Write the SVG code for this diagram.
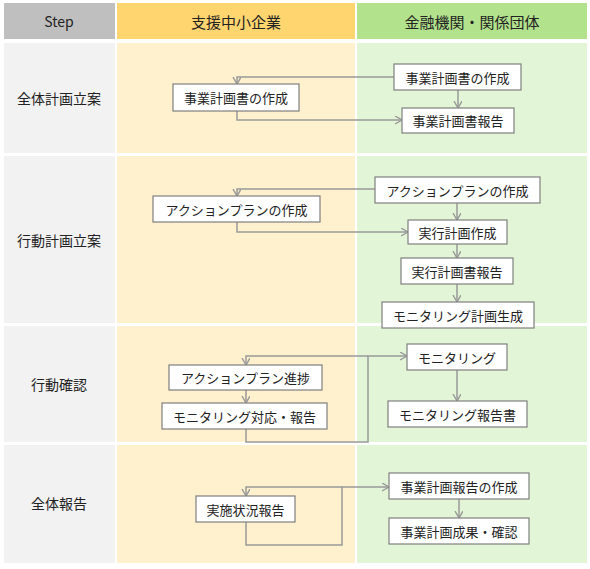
<svg xmlns="http://www.w3.org/2000/svg" width="590" height="569" viewBox="0 0 590 569">
<defs>
<marker id="arr" markerUnits="userSpaceOnUse" markerWidth="10" markerHeight="10" refX="7" refY="4" orient="auto">
<path d="M0,0 L7,4 L0,8" fill="none" stroke="#999" stroke-width="1.4"/>
</marker>
<style>
text{font-family:"Noto Sans CJK JP","Noto Sans",sans-serif;fill:#222;text-anchor:middle;dominant-baseline:central}
.h{font-size:15px}
.r{font-size:14px}
.b{font-size:13px}
.box{fill:#fff;stroke:#7f7f7f;stroke-width:1.2}
.c{fill:none;stroke:#999;stroke-width:1.5}
</style>
</defs>
<rect width="590" height="569" fill="#fff"/>
<g id="lanes">
<rect x="4" y="3" width="111" height="36" fill="#bfbfbf"/>
<rect x="117" y="3" width="238" height="36" fill="#ffd56f"/>
<rect x="357" y="3" width="230" height="36" fill="#b3e28c"/>
<rect x="4" y="43" width="111" height="520" fill="#f2f2f2"/>
<rect x="117" y="43" width="238" height="520" fill="#fff0ce"/>
<rect x="357" y="43" width="230" height="520" fill="#e3f5d7"/>
<g fill="#fff">
<rect x="0" y="153" width="590" height="3"/>
<rect x="0" y="323" width="590" height="3"/>
<rect x="0" y="442" width="590" height="3"/>
</g>
<text class="r" x="59" y="21">Step</text>
<text class="h" x="236" y="21">支援中小企業</text>
<text class="h" x="472" y="21">金融機関・関係団体</text>
<text class="r" x="59" y="98">全体計画立案</text>
<text class="r" x="59" y="240">行動計画立案</text>
<text class="r" x="59" y="384">行動確認</text>
<text class="r" x="59" y="503">全体報告</text>
</g>
<g id="connectors">
<path class="c" d="M394,77 H237 V84" marker-end="url(#arr)"/>
<path class="c" d="M237,111 V120 H402" marker-end="url(#arr)"/>
<path class="c" d="M458,90 V108" marker-end="url(#arr)"/>
<path class="c" d="M375,189 H237 V196" marker-end="url(#arr)"/>
<path class="c" d="M237,222 V232 H408" marker-end="url(#arr)"/>
<path class="c" d="M457,203 V220" marker-end="url(#arr)"/>
<path class="c" d="M457,244 V258" marker-end="url(#arr)"/>
<path class="c" d="M457,284 V302" marker-end="url(#arr)"/>
<path class="c" d="M246,429 V442 H368 V356 H407" marker-end="url(#arr)"/>
<path class="c" d="M368,356 H246 V365" marker-end="url(#arr)"/>
<path class="c" d="M246,390 V403" marker-end="url(#arr)"/>
<path class="c" d="M457,370 V401" marker-end="url(#arr)"/>
<path class="c" d="M246,522 V545 H342 V487 H389" marker-end="url(#arr)"/>
<path class="c" d="M342,487 H246 V496" marker-end="url(#arr)"/>
<path class="c" d="M459,499 V518" marker-end="url(#arr)"/>
</g>
<g id="n1"><rect class="box" x="173" y="84" width="126" height="27"/><text class="b" x="236" y="97.5">事業計画書の作成</text></g>
<g id="n2"><rect class="box" x="394" y="64" width="127" height="26"/><text class="b" x="457.5" y="77">事業計画書の作成</text></g>
<g id="n3"><rect class="box" x="402" y="108" width="112" height="25"/><text class="b" x="458" y="120.5">事業計画書報告</text></g>
<g id="n4"><rect class="box" x="153" y="196" width="167" height="26"/><text class="b" x="236.5" y="209">アクションプランの作成</text></g>
<g id="n5"><rect class="box" x="375" y="177" width="165" height="26"/><text class="b" x="457.5" y="190">アクションプランの作成</text></g>
<g id="n6"><rect class="box" x="408" y="220" width="99" height="24"/><text class="b" x="457.5" y="232">実行計画作成</text></g>
<g id="n7"><rect class="box" x="401" y="258" width="112" height="26"/><text class="b" x="457" y="271">実行計画書報告</text></g>
<g id="n8"><rect class="box" x="382" y="302" width="152" height="26"/><text class="b" x="458" y="315">モニタリング計画生成</text></g>
<g id="n9"><rect class="box" x="169" y="365" width="153" height="25"/><text class="b" x="245.5" y="377.5">アクションプラン進捗</text></g>
<g id="n10"><rect class="box" x="162" y="403" width="165" height="26"/><text class="b" x="244.5" y="416">モニタリング対応・報告</text></g>
<g id="n11"><rect class="box" x="407" y="344" width="100" height="26"/><text class="b" x="457" y="357">モニタリング</text></g>
<g id="n12"><rect class="box" x="388" y="401" width="139" height="26"/><text class="b" x="457.5" y="414">モニタリング報告書</text></g>
<g id="n13"><rect class="box" x="196" y="496" width="99" height="26"/><text class="b" x="245.5" y="509">実施状況報告</text></g>
<g id="n14"><rect class="box" x="389" y="473" width="140" height="26"/><text class="b" x="459" y="486">事業計画報告の作成</text></g>
<g id="n15"><rect class="box" x="389" y="518" width="140" height="26"/><text class="b" x="459" y="531">事業計画成果・確認</text></g>
</svg>
